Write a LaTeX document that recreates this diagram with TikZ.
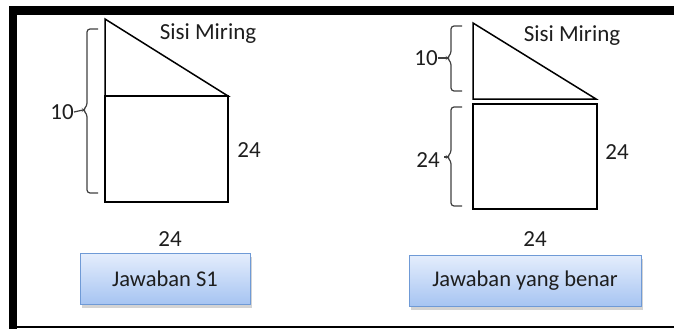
\documentclass[tikz,border=0pt]{standalone}
\usepackage{fontspec}
\setmainfont{Carlito}
\usetikzlibrary{calc}
\usetikzlibrary{shadows}

\definecolor{tombolatas}{HTML}{E4EDFC}
\definecolor{tombolbawah}{HTML}{A6C4F2}
\definecolor{tombolgaris}{HTML}{6F9AD6}
\definecolor{teks}{HTML}{1E1E1E}

\tikzset{
  bangun/.style={line width=1.5pt, line join=miter},
  kurung/.style={line width=1.2pt, draw=black!75, rounded corners=3pt},
  label/.style={font=\fontsize{23}{27}\selectfont, text=teks, inner sep=0pt},
  tombol/.style={draw=tombolgaris, line width=1pt, top color=tombolatas, bottom color=tombolbawah,
    minimum height=51pt, font=\fontsize{22.5}{26}\selectfont, text=teks,
    drop shadow={shadow xshift=2pt, shadow yshift=-3pt, opacity=0.35}}
}

\begin{document}
\begin{tikzpicture}[x=1pt, y=-1pt]
    \useasboundingbox (0,0) rectangle (674,329);
    % bingkai
    \fill[black] (9,6) rectangle (17,329);
    \fill[black] (9,6) rectangle (674,15);
    \draw[line width=1.2pt] (17,327) -- (674,327);

    % gambar kiri (jawaban S1)
    \coordinate (a1) at (105,19);
    \coordinate (b1) at (105,96);
    \coordinate (c1) at (228,96);
    \coordinate (d1) at (105,202);
    \coordinate (e1) at (228,202);
    \draw[bangun] (a1) -- (c1) -- (b1) -- cycle;
    \draw[bangun] (b1) -- (c1) -- (e1) -- (d1) -- cycle;
    \draw[kurung] (98,29) -- (87,29) -- (87,106) -- (83,110) -- (87,114) -- (87,193) -- (98,193);
    \coordinate (k1) at (83,110);
    \node[label, anchor=east] (sepuluh1) at (74,112) {10};
    \draw[line width=1.2pt, black!75] (sepuluh1.east) -- (k1);
    \node[label] (miring1) at (208,34) {Sisi Miring};
    \node[label] (kanan1) at (249,150) {24};
    \node[label] (bawah1) at (170,239) {24};
    \node[tombol, minimum width=170pt] (tombol1) at (165,279) {Jawaban S1};

    % gambar kanan (jawaban yang benar)
    \coordinate (a2) at (473,23);
    \coordinate (b2) at (473,99);
    \coordinate (c2) at (596,99);
    \coordinate (d2) at (473,104);
    \coordinate (e2) at (597,104);
    \coordinate (f2) at (597,209);
    \coordinate (g2) at (473,209);
    \draw[bangun] (a2) -- (c2) -- (b2) -- cycle;
    \draw[bangun] (d2) -- (e2) -- (f2) -- (g2) -- cycle;
    \draw[kurung] (462,26) -- (451,26) -- (451,54) -- (447,58) -- (451,62) -- (451,91) -- (462,91);
    \draw[kurung] (462,107) -- (451,107) -- (451,153) -- (447,157) -- (451,161) -- (451,206) -- (462,206);
    \coordinate (k2) at (447,58);
    \coordinate (k3) at (447,157);
    \node[label, anchor=east] (sepuluh2) at (438,58) {10};
    \node[label, anchor=east] (duaempat2) at (440,160) {24};
    \draw[line width=1.2pt, black!75] (sepuluh2.east) -- (k2);
    \draw[line width=1.2pt, black!75] ($(duaempat2.east)+(4,-3)$) -- (k3);
    \node[label] (miring2) at (572,36) {Sisi Miring};
    \node[label] (kanan2) at (617,152) {24};
    \node[label] (bawah2) at (535,239) {24};
    \node[tombol, minimum width=232pt] (tombol2) at (525,281) {Jawaban yang benar};
\end{tikzpicture}
\end{document}
